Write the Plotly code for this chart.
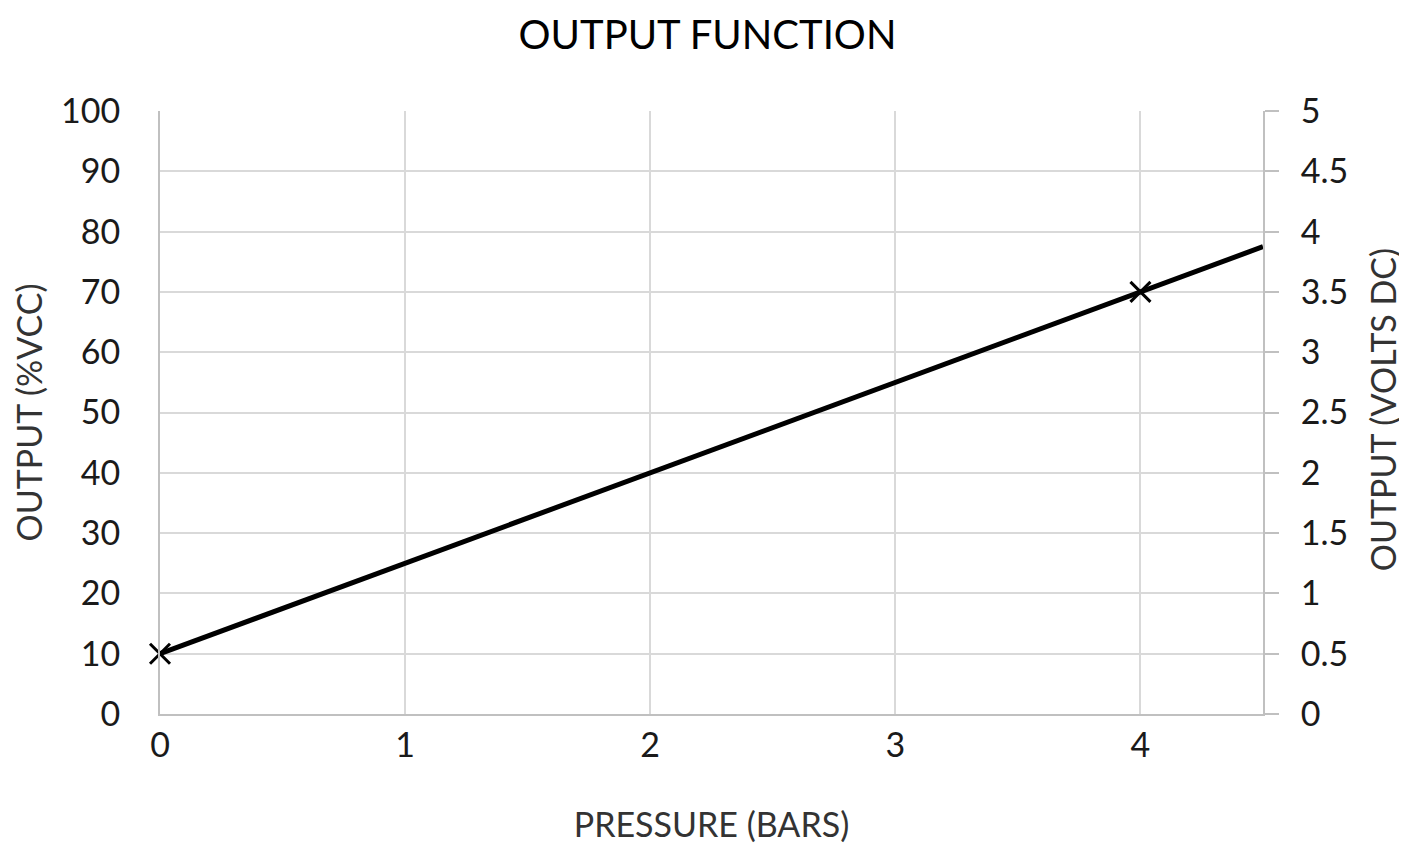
import plotly.graph_objects as go

pressure = [0, 4, 4.5]
output_pct = [10, 70, 77.5]
marker_x = [0, 4]
marker_y = [10, 70]
x_ticks = [0, 1, 2, 3, 4]
y_ticks = list(range(0, 101, 10))
y2_ticks = [0, 0.5, 1, 1.5, 2, 2.5, 3, 3.5, 4, 4.5, 5]
y2_labels = ["0", "0.5", "1", "1.5", "2", "2.5", "3", "3.5", "4", "4.5", "5"]

FONT = "Lato, Open Sans, sans-serif"
fig = go.Figure()
fig.add_trace(go.Scatter(x=pressure, y=output_pct, mode="lines", cliponaxis=False,
                         line=dict(color="black", width=5), showlegend=False))
fig.add_trace(go.Scatter(x=marker_x, y=marker_y, mode="markers", cliponaxis=False,
                         marker=dict(symbol="x-thin", size=20, line=dict(color="black", width=3)),
                         showlegend=False))
fig.add_trace(go.Scatter(x=[0], y=[0], yaxis="y2", mode="markers",
                         marker=dict(opacity=0), showlegend=False, hoverinfo="skip"))

fig.update_layout(
    width=1399, height=839,
    margin=dict(l=152, r=144, t=103, b=133),
    paper_bgcolor="white", plot_bgcolor="white",
    font=dict(family=FONT, color="#1a1a1a"),
    title=dict(text="OUTPUT FUNCTION", x=0.5, xanchor="center", y=0.968, yanchor="middle",
               font=dict(size=40, color="black")),
    xaxis=dict(range=[0, 4.5], tickvals=x_ticks, showgrid=True, gridcolor="#d9d9d9", gridwidth=2,
               showline=True, linecolor="#c0c0c0", linewidth=2, zeroline=False, automargin=False,
               ticks="", tickfont=dict(size=34), ticklabelstandoff=0,
               title=dict(text="PRESSURE (BARS)", font=dict(size=34, color="#333"), standoff=50)),
    yaxis=dict(range=[0, 100], tickvals=y_ticks, showgrid=True, gridcolor="#d9d9d9", gridwidth=2,
               showline=True, linecolor="#c0c0c0", linewidth=2, zeroline=False, automargin=False,
               ticks="", tickfont=dict(size=34), ticklabelstandoff=31,
               title=dict(text="OUTPUT (%VCC)", font=dict(size=34, color="#333"), standoff=14)),
    yaxis2=dict(range=[0, 5], tickvals=y2_ticks, ticktext=y2_labels, overlaying="y", side="right",
                showgrid=False, zeroline=False, showline=True, linecolor="#c0c0c0", linewidth=2,
                automargin=False,
                ticks="outside", ticklen=14, tickcolor="#c0c0c0", tickwidth=2,
                tickfont=dict(size=34), ticklabelstandoff=15),
    annotations=[dict(text="OUTPUT (VOLTS DC)", xref="paper", yref="paper", x=1.108, y=0.504,
                      xanchor="center", yanchor="middle", textangle=-90, showarrow=False,
                      font=dict(size=34, color="#333"))],
)
fig.write_html("out.html")
